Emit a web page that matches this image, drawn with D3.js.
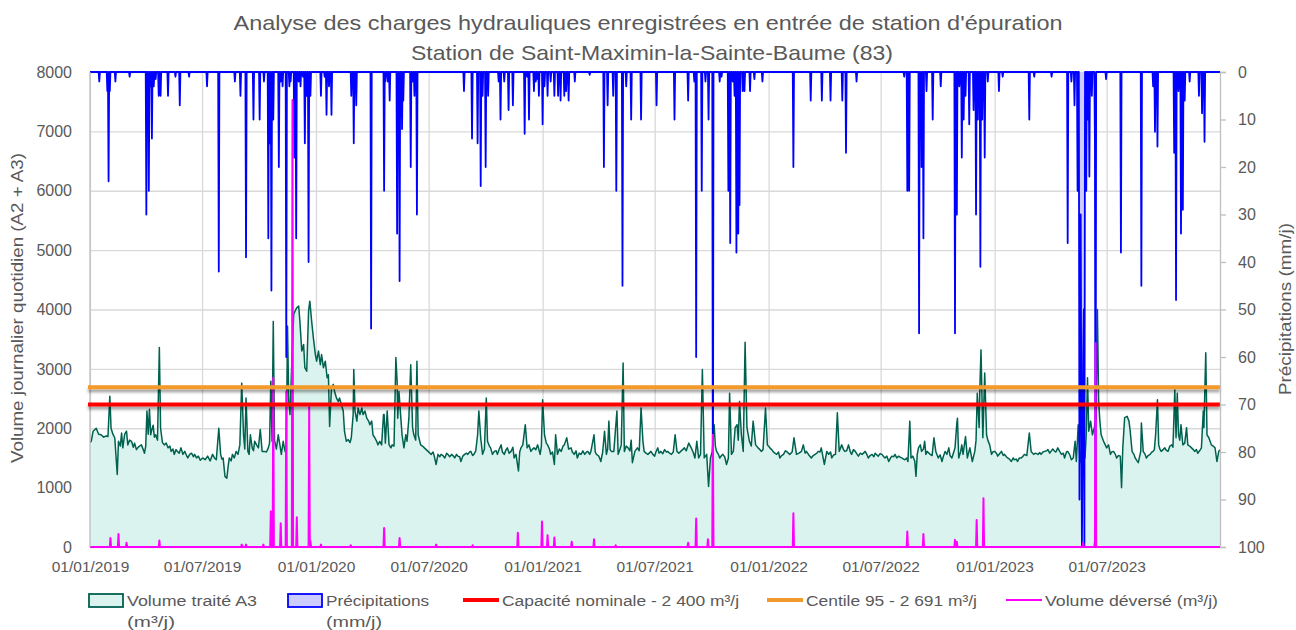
<!DOCTYPE html>
<html><head><meta charset="utf-8">
<script src="https://cdn.jsdelivr.net/npm/d3@7"></script>
<style>
body{margin:0;background:#fff}
svg text{font-family:"Liberation Sans",Arial,sans-serif;fill:#595959}
</style>
</head><body>
<svg id="chart" width="1296" height="630"></svg>
<script>
// ---------- DATA ----------
const titleLines = ["Analyse des charges hydrauliques enregistrées en entrée de station d'épuration",
                    "Station de Saint-Maximin-la-Sainte-Baume (83)"];
const leftAxisTitle = "Volume journalier quotidien (A2 + A3)";
const rightAxisTitle = "Précipitations (mm/j)";
const leftTicks = [0,1000,2000,3000,4000,5000,6000,7000,8000];
const rightTicks = [0,10,20,30,40,50,60,70,80,90,100];
const dateTicks = ["2019-01-01","2019-07-01","2020-01-01","2020-07-01","2021-01-01","2021-07-01","2022-01-01","2022-07-01","2023-01-01","2023-07-01"];
const dateStart = "2019-01-01", dateEnd = "2023-12-31";
const capacityNominal = 2400;
const centile95 = 2691;

// Volume traité A3 (m3/j)
const volumeA3 = [
["2019-01-01",1760],["2019-01-03",1780],["2019-01-06",1950],["2019-01-11",2000],["2019-01-15",1900],["2019-01-19",1890],["2019-01-23",1850],["2019-01-27",1870],["2019-01-30",1860],["2019-02-02",2540],["2019-02-04",2000],["2019-02-07",1900],["2019-02-10",1840],["2019-02-14",1220],["2019-02-16",1780],["2019-02-19",1700],["2019-02-21",1920],["2019-02-23",1670],["2019-02-26",1900],["2019-03-01",1950],["2019-03-03",1720],["2019-03-06",1800],["2019-03-09",1780],["2019-03-12",1680],["2019-03-14",1750],["2019-03-17",1640],["2019-03-19",1670],["2019-03-22",1700],["2019-03-25",1720],["2019-03-28",1640],["2019-03-30",1580],["2019-04-01",1700],["2019-04-03",2290],["2019-04-05",1900],["2019-04-07",2320],["2019-04-09",1890],["2019-04-11",1980],["2019-04-13",2050],["2019-04-15",1850],["2019-04-17",1890],["2019-04-20",1800],["2019-04-23",3360],["2019-04-25",2000],["2019-04-28",1760],["2019-05-01",1720],["2019-05-04",1750],["2019-05-07",1670],["2019-05-10",1700],["2019-05-12",1610],["2019-05-15",1650],["2019-05-17",1560],["2019-05-20",1640],["2019-05-22",1610],["2019-05-25",1580],["2019-05-28",1670],["2019-05-31",1560],["2019-06-03",1610],["2019-06-06",1540],["2019-06-08",1500],["2019-06-11",1560],["2019-06-14",1580],["2019-06-17",1520],["2019-06-19",1560],["2019-06-22",1500],["2019-06-25",1530],["2019-06-28",1460],["2019-07-02",1500],["2019-07-06",1470],["2019-07-10",1530],["2019-07-14",1450],["2019-07-18",1560],["2019-07-21",1500],["2019-07-24",1470],["2019-07-28",2000],["2019-07-31",1560],["2019-08-02",1480],["2019-08-04",1500],["2019-08-07",1190],["2019-08-10",1160],["2019-08-12",1350],["2019-08-14",1500],["2019-08-17",1450],["2019-08-19",1560],["2019-08-22",1500],["2019-08-25",1610],["2019-08-28",1560],["2019-08-31",1720],["2019-09-03",2760],["2019-09-06",1890],["2019-09-08",1650],["2019-09-10",2510],["2019-09-13",1610],["2019-09-15",1560],["2019-09-17",1890],["2019-09-20",1670],["2019-09-22",1620],["2019-09-24",1780],["2019-09-27",1720],["2019-09-30",1670],["2019-10-03",1980],["2019-10-06",1610],["2019-10-10",1610],["2019-10-13",1600],["2019-10-16",1670],["2019-10-18",1750],["2019-10-20",2790],["2019-10-22",1780],["2019-10-24",3800],["2019-10-26",1800],["2019-10-29",1650],["2019-11-01",1890],["2019-11-04",1700],["2019-11-06",1560],["2019-11-09",1780],["2019-11-12",1610],["2019-11-14",1580],["2019-11-16",3720],["2019-11-18",2450],["2019-11-20",2230],["2019-11-23",3130],["2019-11-26",3920],["2019-11-28",3970],["2019-12-01",4030],["2019-12-04",4060],["2019-12-06",3800],["2019-12-09",3300],["2019-12-12",3410],["2019-12-14",3020],["2019-12-17",2960],["2019-12-20",3970],["2019-12-22",4140],["2019-12-25",3800],["2019-12-28",3500],["2019-12-31",3240],
["2020-01-02",3130],["2020-01-05",3300],["2020-01-08",3070],["2020-01-10",3240],["2020-01-13",3020],["2020-01-16",3130],["2020-01-19",2850],["2020-01-21",2900],["2020-01-23",2030],["2020-01-26",2680],["2020-01-29",2740],["2020-01-31",2620],["2020-02-03",2510],["2020-02-06",2450],["2020-02-08",2510],["2020-02-11",2400],["2020-02-14",2290],["2020-02-16",1950],["2020-02-19",1780],["2020-02-22",1810],["2020-02-25",1760],["2020-02-27",1840],["2020-03-01",2230],["2020-03-02",2990],["2020-03-04",2290],["2020-03-07",2120],["2020-03-09",2340],["2020-03-12",2230],["2020-03-15",2340],["2020-03-17",2230],["2020-03-20",2290],["2020-03-23",2170],["2020-03-26",2120],["2020-03-28",2060],["2020-03-31",2120],["2020-04-02",1890],["2020-04-05",1840],["2020-04-08",1780],["2020-04-10",1720],["2020-04-13",1780],["2020-04-16",1720],["2020-04-19",2230],["2020-04-20",2230],["2020-04-22",1750],["2020-04-25",2290],["2020-04-28",1720],["2020-05-01",1670],["2020-05-03",1720],["2020-05-06",1700],["2020-05-09",3190],["2020-05-11",2790],["2020-05-12",2170],["2020-05-14",2620],["2020-05-17",2170],["2020-05-19",1890],["2020-05-22",1670],["2020-05-25",1890],["2020-05-27",1780],["2020-05-30",2170],["2020-06-02",3070],["2020-06-05",2010],["2020-06-07",1890],["2020-06-10",1800],["2020-06-12",3130],["2020-06-14",1890],["2020-06-18",1720],["2020-06-21",1700],["2020-06-24",1670],["2020-06-27",1640],["2020-06-30",1610],["2020-07-03",1580],["2020-07-05",1560],["2020-07-08",1600],["2020-07-10",1530],["2020-07-13",1390],["2020-07-16",1560],["2020-07-19",1520],["2020-07-21",1560],["2020-07-24",1540],["2020-07-27",1500],["2020-07-30",1580],["2020-08-01",1560],["2020-08-04",1520],["2020-08-07",1560],["2020-08-10",1530],["2020-08-12",1500],["2020-08-15",1560],["2020-08-17",1530],["2020-08-20",1520],["2020-08-22",1440],["2020-08-25",1530],["2020-08-28",1560],["2020-08-31",1580],["2020-09-02",1560],["2020-09-05",1600],["2020-09-07",1610],["2020-09-10",1540],["2020-09-12",1560],["2020-09-15",1620],["2020-09-18",1890],["2020-09-20",2290],["2020-09-23",1840],["2020-09-26",1560],["2020-09-29",1650],["2020-10-02",2510],["2020-10-04",1780],["2020-10-07",1700],["2020-10-09",1670],["2020-10-12",1560],["2020-10-15",1610],["2020-10-18",1620],["2020-10-20",1560],["2020-10-23",1650],["2020-10-26",1720],["2020-10-28",1600],["2020-10-31",1560],["2020-11-03",1640],["2020-11-05",1670],["2020-11-08",1580],["2020-11-11",1610],["2020-11-14",1680],["2020-11-16",1500],["2020-11-19",1560],["2020-11-23",1280],["2020-11-25",1600],["2020-11-27",1670],["2020-11-30",1720],["2020-12-04",2060],["2020-12-07",1670],["2020-12-10",1720],["2020-12-13",1610],["2020-12-16",1650],["2020-12-18",1670],["2020-12-21",1640],["2020-12-24",1720],["2020-12-28",1560],["2020-12-30",1700],
["2021-01-01",2480],["2021-01-04",1890],["2021-01-07",1750],["2021-01-09",1720],["2021-01-12",1650],["2021-01-14",1560],["2021-01-17",1600],["2021-01-20",1390],["2021-01-22",1890],["2021-01-25",1560],["2021-01-28",1650],["2021-01-31",1610],["2021-02-03",1700],["2021-02-05",1720],["2021-02-09",1840],["2021-02-12",1650],["2021-02-16",1670],["2021-02-18",1600],["2021-02-21",1560],["2021-02-24",1620],["2021-02-26",1500],["2021-03-01",1580],["2021-03-04",1560],["2021-03-07",1620],["2021-03-10",1560],["2021-03-13",1600],["2021-03-15",1610],["2021-03-18",1560],["2021-03-20",1610],["2021-03-25",1890],["2021-03-27",1600],["2021-03-29",1560],["2021-04-01",1540],["2021-04-03",1500],["2021-04-05",1440],["2021-04-08",1600],["2021-04-11",1950],["2021-04-14",1560],["2021-04-16",1650],["2021-04-18",2120],["2021-04-20",1640],["2021-04-22",1610],["2021-04-26",1610],["2021-05-01",2290],["2021-05-03",1560],["2021-05-06",1650],["2021-05-08",1720],["2021-05-11",3100],["2021-05-13",1610],["2021-05-16",1700],["2021-05-19",1670],["2021-05-22",1620],["2021-05-24",1800],["2021-05-26",1420],["2021-05-30",1610],["2021-06-03",1670],["2021-06-06",1620],["2021-06-09",2340],["2021-06-12",1780],["2021-06-14",1610],["2021-06-17",1580],["2021-06-20",1560],["2021-06-23",1590],["2021-06-25",1610],["2021-06-28",1560],["2021-07-01",1530],["2021-07-03",1600],["2021-07-06",1670],["2021-07-08",1580],["2021-07-11",1610],["2021-07-14",1570],["2021-07-17",1640],["2021-07-20",1600],["2021-07-22",1610],["2021-07-25",1580],["2021-07-28",1560],["2021-07-31",1600],["2021-08-03",1890],["2021-08-06",1610],["2021-08-09",1580],["2021-08-12",1610],["2021-08-15",1640],["2021-08-18",1670],["2021-08-21",1620],["2021-08-25",1750],["2021-08-29",1670],["2021-09-01",1600],["2021-09-04",1500],["2021-09-07",1780],["2021-09-10",1500],["2021-09-13",1560],["2021-09-16",2990],["2021-09-19",1500],["2021-09-23",1560],["2021-09-26",1020],["2021-09-29",1500],["2021-10-02",1610],["2021-10-05",2060],["2021-10-07",1700],["2021-10-09",1610],["2021-10-12",1560],["2021-10-14",1500],["2021-10-17",1540],["2021-10-19",1560],["2021-10-22",1520],["2021-10-25",1390],["2021-10-28",1500],["2021-10-30",2590],["2021-11-02",1560],["2021-11-05",1610],["2021-11-08",2010],["2021-11-11",2060],["2021-11-13",1800],["2021-11-15",2450],["2021-11-18",1890],["2021-11-21",1610],["2021-11-24",3450],["2021-11-27",2010],["2021-12-01",1780],["2021-12-04",1700],["2021-12-07",2120],["2021-12-11",1720],["2021-12-15",1670],["2021-12-18",1640],["2021-12-20",1610],["2021-12-23",1640],["2021-12-27",2340],["2021-12-30",1720],
["2022-01-03",1670],["2022-01-06",1640],["2022-01-08",1610],["2022-01-11",1580],["2022-01-14",1560],["2022-01-17",1600],["2022-01-19",1500],["2022-01-22",1540],["2022-01-25",1560],["2022-01-28",1620],["2022-01-30",1610],["2022-02-02",1580],["2022-02-04",1560],["2022-02-08",1600],["2022-02-11",1840],["2022-02-15",1560],["2022-02-19",1580],["2022-02-23",1610],["2022-02-26",1720],["2022-03-01",1580],["2022-03-03",1610],["2022-03-07",1550],["2022-03-11",1500],["2022-03-14",1540],["2022-03-17",1560],["2022-03-20",1580],["2022-03-22",1610],["2022-03-25",1600],["2022-03-27",1670],["2022-04-01",1390],["2022-04-05",1610],["2022-04-08",1560],["2022-04-11",1600],["2022-04-13",1500],["2022-04-16",1550],["2022-04-19",1560],["2022-04-22",2260],["2022-04-25",1610],["2022-04-29",1720],["2022-05-02",1640],["2022-05-04",1610],["2022-05-07",1620],["2022-05-10",1720],["2022-05-13",1600],["2022-05-15",1560],["2022-05-18",1640],["2022-05-21",1610],["2022-05-24",1560],["2022-05-26",1530],["2022-05-29",1580],["2022-06-01",1560],["2022-06-04",1590],["2022-06-06",1610],["2022-06-09",1550],["2022-06-11",1500],["2022-06-14",1540],["2022-06-17",1560],["2022-06-20",1520],["2022-06-22",1580],["2022-06-25",1550],["2022-06-27",1530],["2022-06-30",1570],["2022-07-03",1560],["2022-07-06",1520],["2022-07-08",1500],["2022-07-11",1530],["2022-07-14",1440],["2022-07-17",1500],["2022-07-19",1530],["2022-07-22",1520],["2022-07-24",1560],["2022-07-27",1500],["2022-07-30",1530],["2022-08-02",1510],["2022-08-04",1500],["2022-08-07",1480],["2022-08-09",1470],["2022-08-12",1500],["2022-08-14",1440],["2022-08-17",2120],["2022-08-19",1500],["2022-08-22",1530],["2022-08-25",1450],["2022-08-27",1190],["2022-08-29",1560],["2022-08-31",1670],["2022-09-03",1720],["2022-09-05",1610],["2022-09-08",1650],["2022-09-10",1780],["2022-09-12",1560],["2022-09-14",1610],["2022-09-17",1580],["2022-09-19",1560],["2022-09-22",1540],["2022-09-25",1840],["2022-09-28",1610],["2022-10-02",1500],["2022-10-05",1550],["2022-10-08",1440],["2022-10-10",1520],["2022-10-13",1610],["2022-10-16",1560],["2022-10-19",1670],["2022-10-21",1540],["2022-10-24",1500],["2022-10-27",1600],["2022-10-29",1670],["2022-11-01",2090],["2022-11-02",2170],["2022-11-04",1500],["2022-11-07",1600],["2022-11-09",1720],["2022-11-11",1560],["2022-11-15",1860],["2022-11-18",1500],["2022-11-22",1670],["2022-11-26",1440],["2022-11-30",1610],["2022-12-02",1800],["2022-12-04",2590],["2022-12-07",2010],["2022-12-08",2600],["2022-12-10",3320],["2022-12-13",1840],["2022-12-16",2930],["2022-12-19",1890],["2022-12-21",1800],["2022-12-24",1720],["2022-12-27",1560],["2022-12-29",1600],
["2023-01-01",1610],["2023-01-04",1580],["2023-01-06",1530],["2023-01-09",1570],["2023-01-12",1610],["2023-01-15",1540],["2023-01-17",1560],["2023-01-20",1520],["2023-01-22",1500],["2023-01-25",1480],["2023-01-28",1440],["2023-01-31",1500],["2023-02-02",1470],["2023-02-05",1480],["2023-02-07",1440],["2023-02-10",1500],["2023-02-13",1500],["2023-02-16",1530],["2023-02-18",1560],["2023-02-22",1540],["2023-02-26",1920],["2023-03-01",1610],["2023-03-05",1560],["2023-03-08",1580],["2023-03-12",1560],["2023-03-15",1590],["2023-03-17",1560],["2023-03-20",1600],["2023-03-23",1610],["2023-03-26",1620],["2023-03-28",1640],["2023-03-31",1580],["2023-04-02",1610],["2023-04-05",1650],["2023-04-08",1610],["2023-04-10",1600],["2023-04-13",1670],["2023-04-16",1610],["2023-04-19",1560],["2023-04-22",1580],["2023-04-24",1500],["2023-04-27",1600],["2023-04-29",1610],["2023-05-02",1560],["2023-05-05",1470],["2023-05-08",1500],["2023-05-11",1780],["2023-05-13",1440],["2023-05-16",2060],["2023-05-19",1420],["2023-05-22",1720],["2023-05-24",1840],["2023-05-27",1500],["2023-05-29",1900],["2023-05-31",2850],["2023-06-02",1950],["2023-06-05",2120],["2023-06-08",1890],["2023-06-11",2010],["2023-06-14",2180],["2023-06-16",4000],["2023-06-18",2450],["2023-06-20",2120],["2023-06-22",1890],["2023-06-26",1780],["2023-07-01",1670],["2023-07-04",1720],["2023-07-07",1560],["2023-07-09",1600],["2023-07-12",1610],["2023-07-15",1560],["2023-07-17",1500],["2023-07-20",1540],["2023-07-23",1530],["2023-07-25",1000],["2023-07-27",1670],["2023-07-30",2180],["2023-08-03",2200],["2023-08-06",2120],["2023-08-08",1950],["2023-08-11",1610],["2023-08-14",1560],["2023-08-16",1500],["2023-08-19",1450],["2023-08-21",1420],["2023-08-25",1610],["2023-08-26",2090],["2023-08-29",1610],["2023-09-01",1560],["2023-09-03",1500],["2023-09-06",1540],["2023-09-09",1560],["2023-09-12",1600],["2023-09-14",1610],["2023-09-16",1640],["2023-09-18",1890],["2023-09-21",2480],["2023-09-23",1720],["2023-09-25",1650],["2023-09-27",1610],["2023-09-30",1640],["2023-10-03",1670],["2023-10-05",1630],["2023-10-08",1610],["2023-10-11",1700],["2023-10-14",1720],["2023-10-16",1680],["2023-10-19",2650],["2023-10-21",1840],["2023-10-23",2590],["2023-10-25",1890],["2023-10-27",1800],["2023-10-29",2060],["2023-11-01",1720],["2023-11-04",1750],["2023-11-07",2010],["2023-11-09",1720],["2023-11-12",1700],["2023-11-15",1670],["2023-11-18",1640],["2023-11-20",1610],["2023-11-23",1640],["2023-11-25",1580],["2023-11-28",1620],["2023-12-01",1670],["2023-12-04",2290],["2023-12-05",2010],["2023-12-08",3270],["2023-12-10",1890],["2023-12-13",1840],["2023-12-15",1780],["2023-12-17",1720],["2023-12-20",1700],["2023-12-23",1670],["2023-12-26",1440],["2023-12-29",1610],["2023-12-31",1640]
];

// Précipitations (mm/j) - rainy days only, other days are 0
const precipitation = [
["2019-01-16",2],["2019-01-29",4],["2019-01-31",23],["2019-02-02",4],["2019-02-11",2],["2019-03-06",1],["2019-04-02",30],["2019-04-06",25],["2019-04-08",3],["2019-04-11",14],["2019-04-14",3],["2019-04-17",1.5],["2019-04-22",5],["2019-04-25",5],["2019-05-07",5],["2019-05-19",1],["2019-05-26",7],["2019-06-10",1],["2019-07-09",3],["2019-07-28",42],["2019-08-23",2],["2019-09-01",5],["2019-09-10",39],["2019-09-22",10],["2019-10-02",10],["2019-10-09",2],["2019-10-16",35],["2019-10-19",15],["2019-10-21",46],["2019-10-24",10],["2019-11-02",20],["2019-11-05",2],["2019-11-08",3],["2019-11-14",60],["2019-11-19",3],["2019-11-21",2],["2019-11-27",18],["2019-11-30",35],["2019-12-04",2],["2019-12-07",3],["2019-12-11",1],["2019-12-14",15],["2019-12-17",5],["2019-12-20",40],["2019-12-23",5],
["2020-01-09",5],["2020-01-15",1],["2020-01-18",9],["2020-01-22",3],["2020-01-26",9],["2020-02-27",5],["2020-03-02",15],["2020-03-06",7],["2020-03-30",54],["2020-04-20",25],["2020-04-22",2],["2020-04-26",2],["2020-04-29",6],["2020-05-11",34],["2020-05-15",44],["2020-05-19",12],["2020-05-21",6],["2020-06-02",20],["2020-06-05",2],["2020-06-08",5],["2020-06-12",30],["2020-08-27",4],["2020-09-09",14],["2020-09-18",15],["2020-09-23",24],["2020-09-26",5],["2020-10-01",20],["2020-10-05",5],["2020-10-22",2],["2020-10-25",10],["2020-10-31",2],["2020-11-07",8],["2020-11-14",7],["2020-12-03",13],["2020-12-07",1],["2020-12-10",10],["2020-12-18",4],["2020-12-21",2],["2020-12-24",1.5],["2020-12-26",5],
["2021-01-01",11],["2021-01-04",3],["2021-01-09",5],["2021-01-14",2],["2021-01-20",5],["2021-01-26",5],["2021-01-30",6],["2021-02-05",5],["2021-02-08",4],["2021-02-12",6],["2021-02-22",2],["2021-03-18",0.6],["2021-04-10",20],["2021-04-16",7],["2021-04-25",5],["2021-04-30",25],["2021-05-10",45],["2021-05-16",3],["2021-05-24",10],["2021-06-09",10],["2021-07-04",7],["2021-08-02",10],["2021-08-24",6],["2021-09-03",2],["2021-09-06",60],["2021-09-15",25],["2021-09-21",2],["2021-09-26",10],["2021-10-03",100],["2021-10-14",2],["2021-10-17",1],["2021-10-28",25],["2021-10-31",36],["2021-11-04",2],["2021-11-07",5],["2021-11-10",38],["2021-11-13",34],["2021-11-15",28],["2021-11-20",4],["2021-11-23",4],["2021-12-02",4],["2021-12-09",1.5],["2021-12-22",2],
["2022-02-10",20],["2022-03-10",6],["2022-03-28",6],["2022-04-11",6],["2022-04-30",6],["2022-05-06",17],["2022-05-23",2],["2022-08-08",1],["2022-08-13",25],["2022-08-16",25],["2022-09-01",55],["2022-09-03",4],["2022-09-05",20],["2022-09-08",35],["2022-09-13",4],["2022-09-23",10],["2022-10-06",3],["2022-10-29",55],["2022-11-01",30],["2022-11-05",3],["2022-11-09",18],["2022-11-12",10],["2022-11-15",5],["2022-11-21",11],["2022-11-28",8],["2022-12-02",30],["2022-12-05",10],["2022-12-09",41],["2022-12-12",10],["2022-12-16",18],["2022-12-21",2],
["2023-01-08",4],["2023-01-14",1],["2023-02-26",10],["2023-03-06",1],["2023-04-03",1],["2023-04-29",36],["2023-05-05",2],["2023-05-10",7],["2023-05-15",25],["2023-05-18",90],["2023-05-19",40],["2023-05-20",30],["2023-05-21",70],["2023-05-22",100],["2023-05-23",80],["2023-05-24",60],["2023-05-25",50],["2023-05-26",100],["2023-05-29",25],["2023-06-01",10],["2023-06-03",22],["2023-06-07",5],["2023-06-12",15],["2023-06-13",100],["2023-06-30",1.5],["2023-07-24",38],["2023-08-26",45],["2023-09-14",3],["2023-09-17",12.6],["2023-09-21",15.7],["2023-10-18",17],["2023-10-21",48],["2023-10-25",4],["2023-10-29",34],["2023-11-01",29],["2023-11-04",6],["2023-11-12",2],["2023-11-27",5],["2023-12-02",8.7],["2023-12-06",14.7]
];

// Volume déversé (m3/j) - overflow days only, other days are 0
const volumeDeverse = [
["2019-02-03",150],["2019-02-16",220],["2019-03-01",70],["2019-04-23",110],["2019-09-03",40],["2019-09-10",40],["2019-10-08",40],["2019-10-20",600],["2019-10-24",2850],["2019-11-05",400],["2019-11-14",2620],["2019-11-24",7530],["2019-12-01",500],["2019-12-21",2370],["2019-12-23",100],
["2020-01-09",40],["2020-02-26",30],["2020-04-20",320],["2020-05-15",150],["2020-07-13",40],["2020-09-10",30],["2020-11-22",240],["2020-12-31",430],
["2021-01-09",200],["2021-01-20",160],["2021-02-17",90],["2021-03-25",130],["2021-04-29",30],["2021-08-24",70],["2021-09-06",480],["2021-09-25",130],["2021-10-03",1890],
["2022-02-10",570],["2022-08-13",260],["2022-09-08",220],["2022-10-29",120],["2022-11-01",90],["2022-12-03",455],["2022-12-14",820],
["2023-05-24",70],["2023-06-12",100],["2023-06-13",3430]
];

const legendItems = [
  {label:["Volume traité A3","(m³/j)"], kind:"area", stroke:"#00614f", fill:"#dbf3ee"},
  {label:["Précipitations","(mm/j)"], kind:"area", stroke:"#0000ff", fill:"#ccccff"},
  {label:["Capacité nominale - 2 400 m³/j"], kind:"line", stroke:"#ff0000", w:4},
  {label:["Centile 95 - 2 691 m³/j"], kind:"line", stroke:"#f39a2c", w:4},
  {label:["Volume déversé (m³/j)"], kind:"line", stroke:"#ff00ff", w:2}
];

// ---------- CHART ----------
const svg = d3.select("#chart");
const m = {left:90, right:1220, top:72, bottom:547};
const parse = d3.utcParse("%Y-%m-%d");
const fmtKey = d3.utcFormat("%Y-%m-%d");
const t0 = parse(dateStart), t1 = parse(dateEnd);

const x = d3.scaleUtc().domain([t0, t1]).range([m.left, m.right]);
const yL = d3.scaleLinear().domain([0, 8000]).range([m.bottom, m.top]);
const yR = d3.scaleLinear().domain([0, 100]).range([m.top, m.bottom]);

const days = d3.utcDay.range(t0, d3.utcDay.offset(t1, 1));
function daily(events){
  const mp = new Map(events.map(d => [d[0], d[1]]));
  return days.map(d => ({date:d, v: mp.has(fmtKey(d)) ? mp.get(fmtKey(d)) : 0}));
}
const volData = volumeA3.map(d => ({date: parse(d[0]), v: d[1]}));
const rainData = daily(precipitation);
const overData = daily(volumeDeverse);

const defs = svg.append("defs");
const f = defs.append("filter").attr("id","shadow").attr("filterUnits","userSpaceOnUse")
  .attr("x",0).attr("y",0).attr("width",1296).attr("height",630);
f.append("feDropShadow").attr("dx",0).attr("dy",3).attr("stdDeviation",1.8).attr("flood-color","#000").attr("flood-opacity",0.38);
defs.append("clipPath").attr("id","plotclip").append("rect")
  .attr("x", m.left).attr("y", m.top-3).attr("width", m.right-m.left).attr("height", m.bottom-m.top+6);

// Title
svg.append("text").attr("x", 648).attr("y", 30).attr("text-anchor","middle")
  .attr("font-size", 21).attr("textLength", 829).attr("lengthAdjust","spacingAndGlyphs").text(titleLines[0]);
svg.append("text").attr("x", 652).attr("y", 60).attr("text-anchor","middle")
  .attr("font-size", 21).attr("textLength", 482).attr("lengthAdjust","spacingAndGlyphs").text(titleLines[1]);

// Gridlines
const gridY = svg.append("g").attr("transform", `translate(${m.left},0)`)
  .call(d3.axisLeft(yL).tickValues(leftTicks).tickSize(-(m.right-m.left)).tickFormat(""));
gridY.select(".domain").remove();
gridY.selectAll("line").attr("stroke","#d9d9d9").attr("stroke-width",1.3);
const gridX = svg.append("g").attr("transform", `translate(0,${m.bottom})`)
  .call(d3.axisBottom(x).tickValues(dateTicks.map(parse)).tickSize(-(m.bottom-m.top)).tickFormat(""));
gridX.select(".domain").remove();
gridX.selectAll("line").attr("stroke","#d9d9d9").attr("stroke-width",1.3);

const plot = svg.append("g").attr("clip-path","url(#plotclip)");

// Volume traité A3 area + line
plot.append("path").datum(volData)
  .attr("fill","#dbf3ee")
  .attr("d", d3.area().x(d => x(d.date)).y0(yL(0)).y1(d => yL(d.v)));

svg.append("line").attr("x1",m.left).attr("x2",m.left).attr("y1",m.top).attr("y2",m.bottom)
  .attr("stroke","#bfbfbf").attr("stroke-width",1.3);

plot.append("path").datum(volData)
  .attr("fill","none").attr("stroke","#00614f").attr("stroke-width",1.5).attr("stroke-linejoin","round")
  .attr("d", d3.line().x(d => x(d.date)).y(d => yL(d.v)));

// Précipitations (secondary reversed axis)
plot.append("path").datum(rainData)
  .attr("fill","#ccccff")
  .attr("d", d3.area().x(d => x(d.date)).y0(yR(0)).y1(d => yR(d.v)));
plot.append("path").datum(rainData)
  .attr("fill","none").attr("stroke","#0000ff").attr("stroke-width",1.8).attr("stroke-linejoin","round")
  .attr("d", d3.line().x(d => x(d.date)).y(d => yR(d.v)));

// Reference lines (with shadow)
const refs = [[capacityNominal,"#ff0000"],[centile95,"#f39a2c"]];
refs.forEach(([v,c]) => {
  svg.append("rect").attr("x", x(t0)-2).attr("width", x(t1)-x(t0)+2)
    .attr("y", yL(v)-2).attr("height", 4)
    .attr("fill", c).attr("filter","url(#shadow)");
});

// Volume déversé
plot.append("path").datum(overData)
  .attr("fill","none").attr("stroke","#ff00ff").attr("stroke-width",2).attr("stroke-linejoin","round")
  .attr("d", d3.line().x(d => x(d.date)).y(d => yL(d.v)));

// Axes
const axL = svg.append("g").attr("transform", `translate(${m.left},0)`)
  .call(d3.axisLeft(yL).tickValues(leftTicks).tickSize(0).tickPadding(18).tickFormat(d3.format("d")));
axL.select(".domain").remove();
axL.selectAll("text").attr("font-size",16).attr("fill","#595959").style("font-family",'"Liberation Sans",Arial,sans-serif');

const axR = svg.append("g").attr("transform", `translate(${m.right},0)`)
  .call(d3.axisRight(yR).tickValues(rightTicks).tickSize(6).tickPadding(12).tickFormat(d3.format("d")));
axR.select(".domain").attr("stroke","#bfbfbf").attr("stroke-width",1.3);
axR.selectAll("line").attr("stroke","#bfbfbf").attr("stroke-width",1.3);
axR.selectAll("text").attr("font-size",16).attr("fill","#595959").style("font-family",'"Liberation Sans",Arial,sans-serif');

const axB = svg.append("g").attr("transform", `translate(0,${m.bottom})`)
  .call(d3.axisBottom(x).tickValues(dateTicks.map(parse)).tickSize(0).tickPadding(14).tickFormat(d3.utcFormat("%d/%m/%Y")));
axB.select(".domain").remove();
axB.selectAll("text").attr("font-size",15.5).attr("fill","#595959").style("font-family",'"Liberation Sans",Arial,sans-serif');

// Axis titles
svg.append("text").attr("transform","translate(23,308) rotate(-90)").attr("text-anchor","middle")
  .attr("font-size",17).attr("textLength",310).attr("lengthAdjust","spacingAndGlyphs").text(leftAxisTitle);
svg.append("text").attr("transform","translate(1291,309) rotate(-90)").attr("text-anchor","middle")
  .attr("font-size",17).attr("textLength",172).attr("lengthAdjust","spacingAndGlyphs").text(rightAxisTitle);

// Legend
const legendX = [88, 287, 463, 767, 1006];
const legendW = [[130,48],[103,56],[237],[171],[173]];
legendItems.forEach((it, i) => {
  const g = svg.append("g").attr("transform", `translate(${legendX[i]},0)`);
  if (it.kind === "area") {
    g.append("rect").attr("x",1).attr("y",594).attr("width",34).attr("height",13)
      .attr("fill", it.fill).attr("stroke", it.stroke).attr("stroke-width",1.8);
  } else {
    g.append("line").attr("x1",0).attr("x2",36).attr("y1",600).attr("y2",600)
      .attr("stroke", it.stroke).attr("stroke-width", it.w);
  }
  it.label.forEach((l, j) => {
    g.append("text").attr("x",39).attr("y",606 + j*21).attr("font-size",15.5)
      .attr("textLength", legendW[i][j]).attr("lengthAdjust","spacingAndGlyphs").text(l);
  });
});
</script>
</body></html>
